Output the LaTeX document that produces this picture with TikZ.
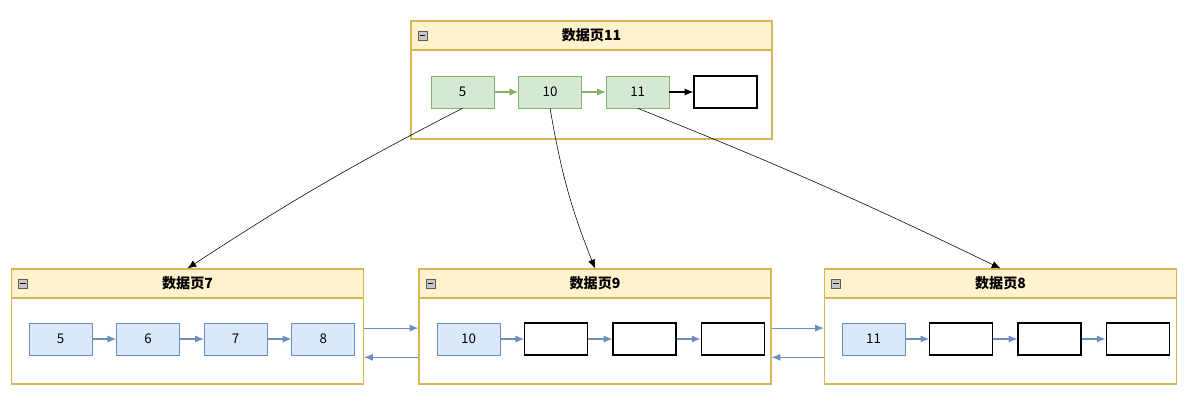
\documentclass[tikz,border=0pt]{standalone}
\usepackage{fontspec}
\setmainfont{Noto Sans CJK SC}
\usepackage{tikz}
\usetikzlibrary{arrows.meta,positioning,calc}
\definecolor{hdrfill}{HTML}{FFF2CC}
\definecolor{hdrline}{HTML}{D6B656}
\definecolor{grnfill}{HTML}{D5E8D4}
\definecolor{grnline}{HTML}{82B366}
\definecolor{bluefill}{HTML}{DAE8FC}
\definecolor{blueline}{HTML}{6C8EBF}
\definecolor{iconfill}{HTML}{C8C8C8}

\begin{document}
\begin{tikzpicture}[x=0.025cm,y=-0.025cm,font=\fontsize{9.5}{11}\selectfont,
  page/.style={draw=hdrline,thick,fill=white,minimum width=8.8cm,
               minimum height=2.875cm,inner sep=0pt},
  hdr/.style={draw=hdrline,thick,fill=hdrfill,minimum height=0.725cm,
              anchor=north,inner sep=0pt,font=\fontsize{10}{11}\selectfont\bfseries},
  icon/.style={draw=gray!70!black,fill=iconfill,minimum size=0.22cm,inner sep=0pt},
  key/.style={draw=blueline,fill=bluefill,minimum width=1.575cm,
              minimum height=0.8cm,inner sep=0pt},
  ikey/.style={draw=grnline,fill=grnfill,minimum width=1.575cm,
               minimum height=0.8cm,inner sep=0pt},
  slot/.style={draw,thick,fill=white,minimum width=1.575cm,
               minimum height=0.8cm,inner sep=0pt},
  link/.style={draw=blueline,thick,-{Latex[length=2.2mm,width=1.8mm]}},
  glink/.style={draw=grnline,thick,-{Latex[length=2.2mm,width=1.8mm]}},
  klink/.style={thick,-{Latex[length=2.2mm,width=1.8mm]}},
  ptr/.style={-{Latex[length=2.2mm,width=1.8mm]}}]
\useasboundingbox (0,0) rectangle (1198,406);

% index page
\node[page,minimum width=9.025cm,minimum height=2.95cm] (p11) at (591.5,80) {};
\node[hdr,minimum width=9.025cm] (h11) at (p11.north) {数据页11};
\node[icon] (i11) at ([xshift=0.3cm]h11.west) {};
\draw[thick] ([xshift=-0.07cm]i11.center) -- ([xshift=0.07cm]i11.center);
\node[ikey] (t5) at (462.5,92) {5};
\node[ikey,right=0.6cm of t5] (t10) {10};
\node[ikey,right=0.6cm of t10] (t11) {11};
\node[slot,right=0.6cm of t11] (t0) {};
\draw[glink] (t5)--(t10); \draw[glink] (t10)--(t11);
\draw[klink] (t11)--(t0);

% leaf pages
\node[page] (p7) at (187.5,326.5) {};
\node[hdr,minimum width=8.8cm] (h7) at (p7.north) {数据页7};
\node[icon] (i7) at ([xshift=0.3cm]h7.west) {};
\draw[thick] ([xshift=-0.07cm]i7.center) -- ([xshift=0.07cm]i7.center);
\node[key] (a5) at (60.5,339) {5};
\node[key,right=0.6cm of a5] (a6) {6};
\node[key,right=0.6cm of a6] (a7) {7};
\node[key,right=0.6cm of a7] (a8) {8};
\draw[link] (a5)--(a6); \draw[link] (a6)--(a7); \draw[link] (a7)--(a8);

\node[page] (p9) at (595,326.5) {};
\node[hdr,minimum width=8.8cm] (h9) at (p9.north) {数据页9};
\node[icon] (i9) at ([xshift=0.3cm]h9.west) {};
\draw[thick] ([xshift=-0.07cm]i9.center) -- ([xshift=0.07cm]i9.center);
\node[key] (b10) at (468.5,339) {10};
\node[slot,right=0.6cm of b10] (b1) {};
\node[slot,right=0.6cm of b1] (b2) {};
\node[slot,right=0.6cm of b2] (b3) {};
\draw[link] (b10)--(b1); \draw[link] (b1)--(b2); \draw[link] (b2)--(b3);

\node[page] (p8) at (1000.5,326.5) {};
\node[hdr,minimum width=8.8cm] (h8) at (p8.north) {数据页8};
\node[icon] (i8) at ([xshift=0.3cm]h8.west) {};
\draw[thick] ([xshift=-0.07cm]i8.center) -- ([xshift=0.07cm]i8.center);
\node[key] (c11) at (873.5,339) {11};
\node[slot,right=0.6cm of c11] (c1) {};
\node[slot,right=0.6cm of c1] (c2) {};
\node[slot,right=0.6cm of c2] (c3) {};
\draw[link] (c11)--(c1); \draw[link] (c1)--(c2); \draw[link] (c2)--(c3);

% sibling links
\draw[link] ([yshift=-0.04cm]p7.east) -- ([yshift=-0.04cm]p9.west);
\draw[link] ([yshift=-0.77cm]p9.west) -- ([yshift=-0.77cm]p7.east);
\draw[link] ([yshift=-0.04cm]p9.east) -- ([yshift=-0.04cm]p8.west);
\draw[link] ([yshift=-0.77cm]p8.west) -- ([yshift=-0.77cm]p9.east);

% child pointers
\draw[ptr] (t5.south) to[bend right=3] (h7.north);
\draw[ptr] (t10.south) to[bend right=6] (h9.north);
\draw[ptr] (t11.south) to[bend left=2] (h8.north);
\end{tikzpicture}
\end{document}
